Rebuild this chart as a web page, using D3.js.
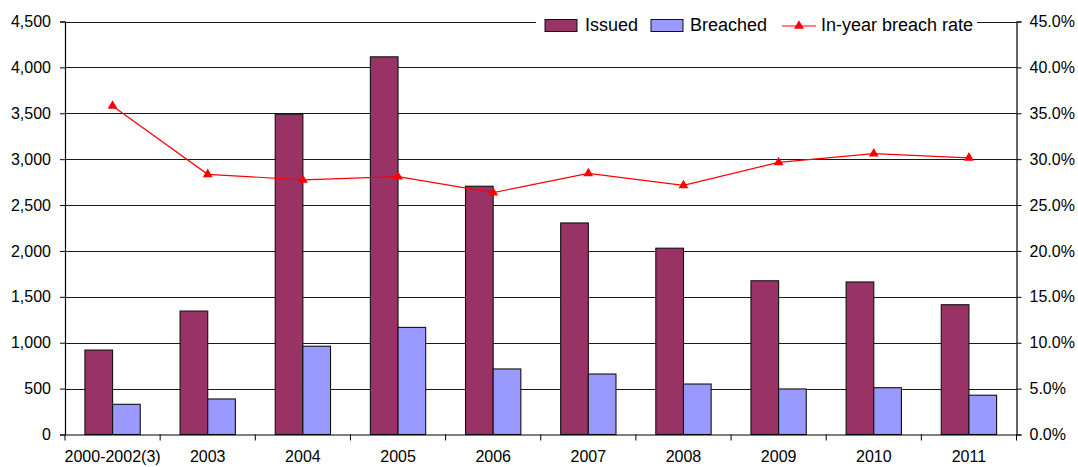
<!DOCTYPE html>
<html>
<head>
<meta charset="utf-8">
<script src="https://cdn.jsdelivr.net/npm/d3@7"></script>
<style>
  body { margin: 0; background: #fff; }
  text { font-family: "Liberation Sans", Arial, sans-serif; fill: #000; }
</style>
</head>
<body>
<script>
// ---------------- DATA ----------------
var categories = ['2000-2002(3)', '2003', '2004', '2005', '2006', '2007', '2008', '2009', '2010', '2011']
var issued   = [920, 1345, 3490, 4115, 2705, 2305, 2030, 1675, 1662, 1414]
var breached = [329, 387, 962, 1167, 714, 659, 550, 496, 510, 428]
var rate     = [35.8, 28.35, 27.75, 28.1, 26.35, 28.45, 27.15, 29.65, 30.6, 30.15]
var leftTicks  = [0, 500, 1000, 1500, 2000, 2500, 3000, 3500, 4000, 4500]
var rightTicks = [0, 5, 10, 15, 20, 25, 30, 35, 40, 45]
var seriesNames = ['Issued', 'Breached', 'In-year breach rate']

// ---------------- SVG ----------------
var width = 1078, height = 467
var m = {left: 65, right: 1016.5, top: 21.5, bottom: 434.5}

var svg = d3.select('body').append('svg')
  .attr('width', width).attr('height', height)

var x = d3.scaleBand().domain(categories).range([m.left, m.right])
var xs = d3.scaleBand().domain(['issued', 'breached'])
  .range([0, x.bandwidth()]).paddingInner(0).paddingOuter(0.72)
var y = d3.scaleLinear().domain([0, 4500]).range([m.bottom, m.top])
var y2 = d3.scaleLinear().domain([0, 45]).range([m.bottom, m.top])

// gridlines
svg.append('g').selectAll('line').data(leftTicks.slice(1)).enter().append('line')
  .attr('x1', m.left).attr('x2', m.right)
  .attr('y1', d => Math.round(y(d)) + 0.5).attr('y2', d => Math.round(y(d)) + 0.5)
  .attr('stroke', '#1a1a1a').attr('stroke-width', 1.2)

// bars
var groups = svg.append('g').selectAll('g').data(categories).enter().append('g')
  .attr('transform', d => 'translate(' + x(d) + ',0)')

groups.append('rect')
  .attr('x', xs('issued')).attr('width', xs.bandwidth())
  .attr('y', (d, i) => y(issued[i])).attr('height', (d, i) => m.bottom - y(issued[i]))
  .attr('fill', '#993366').attr('stroke', '#111').attr('stroke-width', 1.1)

groups.append('rect')
  .attr('x', xs('breached')).attr('width', xs.bandwidth())
  .attr('y', (d, i) => y(breached[i])).attr('height', (d, i) => m.bottom - y(breached[i]))
  .attr('fill', '#9999FF').attr('stroke', '#111').attr('stroke-width', 1.1)

// left axis
var leftAxis = d3.axisLeft(y).tickValues(leftTicks).tickSize(5).tickPadding(9)
  .tickFormat(d3.format(','))
var gl = svg.append('g').attr('transform', 'translate(' + m.left + ',0)').call(leftAxis)
gl.selectAll('text').style('font-size', '16px')

// right axis
var rightAxis = d3.axisRight(y2).tickValues(rightTicks).tickSize(5).tickPadding(8)
  .tickFormat(d => d.toFixed(1) + '%')
var gr = svg.append('g').attr('transform', 'translate(' + m.right + ',0)').call(rightAxis)
gr.selectAll('text').style('font-size', '16px')

// bottom axis
var bottomAxis = d3.axisBottom(x).tickSize(0).tickPadding(16)
var gb = svg.append('g').attr('transform', 'translate(0,' + m.bottom + ')').call(bottomAxis)
gb.selectAll('text').style('font-size', '16px')
gb.selectAll('.cat-tick').data(categories.concat(['end'])).enter().append('line')
  .attr('class', 'cat-tick')
  .attr('x1', (d, i) => i < categories.length ? x(d) : m.right)
  .attr('x2', (d, i) => i < categories.length ? x(d) : m.right)
  .attr('y1', 0).attr('y2', 6).attr('stroke', '#000')

svg.selectAll('.domain').attr('stroke', '#000').attr('stroke-width', 1.2)
svg.selectAll('.tick line').attr('stroke', '#000')

// rate line
var line = d3.line()
  .x((d, i) => x(categories[i]) + x.bandwidth() / 2)
  .y(d => y2(d))
svg.append('path').datum(rate).attr('d', line)
  .attr('fill', 'none').attr('stroke', '#FF0000').attr('stroke-width', 1.2)

var tri = d3.symbol().type(d3.symbolTriangle).size(42)
svg.append('g').selectAll('path').data(rate).enter().append('path')
  .attr('d', tri)
  .attr('transform', (d, i) => 'translate(' + (x(categories[i]) + x.bandwidth() / 2) + ',' + y2(d) + ')')
  .attr('fill', '#FF0000')

// legend
var lg = svg.append('g')
lg.append('rect').attr('x', 536).attr('y', 8).attr('width', 441).attr('height', 30).attr('fill', '#fff')
lg.append('rect').attr('x', 545).attr('y', 19.5).attr('width', 32).attr('height', 12)
  .attr('fill', '#993366').attr('stroke', '#111')
lg.append('text').attr('x', 585).attr('y', 31).text(seriesNames[0]).style('font-size', '18px')
lg.append('rect').attr('x', 651).attr('y', 19.5).attr('width', 32).attr('height', 12)
  .attr('fill', '#9999FF').attr('stroke', '#111')
lg.append('text').attr('x', 690).attr('y', 31).text(seriesNames[1]).style('font-size', '18px')
lg.append('line').attr('x1', 782).attr('x2', 816).attr('y1', 26).attr('y2', 26)
  .attr('stroke', '#FF0000').attr('stroke-width', 1.2)
lg.append('path').attr('d', tri).attr('transform', 'translate(799,26)').attr('fill', '#FF0000')
lg.append('text').attr('x', 821).attr('y', 31).text(seriesNames[2]).style('font-size', '18px')
</script>
</body>
</html>
